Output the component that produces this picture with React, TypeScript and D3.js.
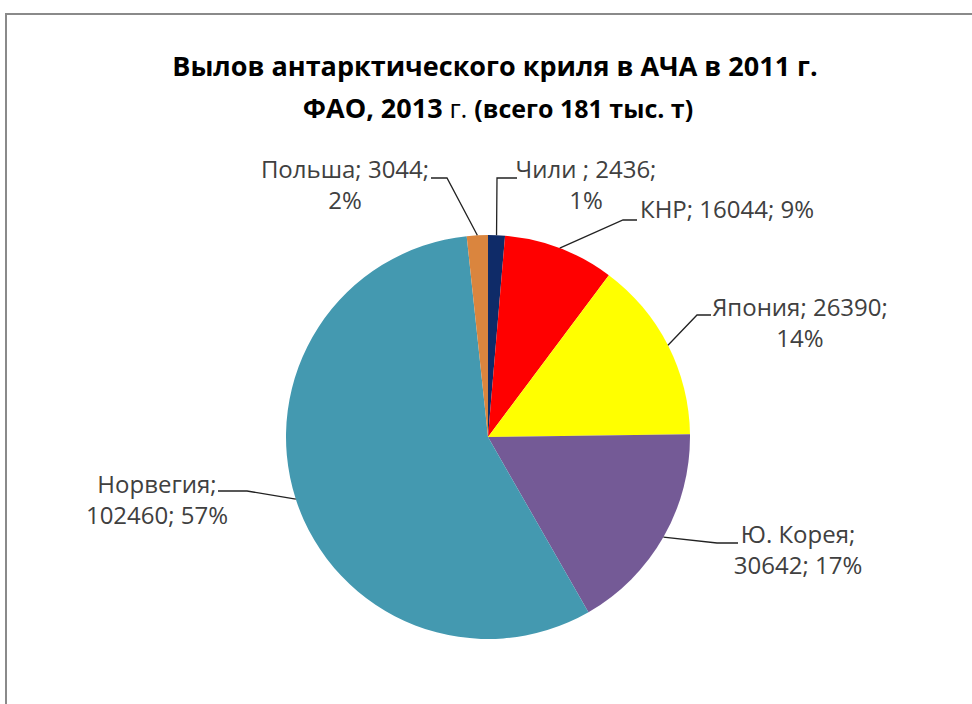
import * as d3 from 'd3';
import React from 'react';

// Krill catch by country, 2011 (tonnes) — slice order as in the source, clockwise from 12 o'clock
const countries = ['Чили ', 'КНР', 'Япония', 'Ю. Корея', 'Норвегия', 'Польша'];
const catches = [2436, 16044, 26390, 30642, 102460, 3044];
const percents = [1, 9, 14, 17, 57, 2];
const colors = ['#0f2b68', '#ff0000', '#ffff00', '#745a96', '#4499b0', '#da853e'];

const titleLine1 = 'Вылов антарктического криля в АЧА в 2011 г.';

type Slice = { name: string; value: number; pct: number; color: string };

const slices: Slice[] = countries.map((name, i) => ({
  name,
  value: catches[i],
  pct: percents[i],
  color: colors[i],
}));

// label placement (Excel-style data labels with leader lines)
type LabelLayout = {
  lines: number[][]; // which label parts go on which line
  x: number;
  y: number;
  anchor: 'start' | 'middle' | 'end';
  elbow: [number, number];
  end: [number, number];
};

const labelLayout: LabelLayout[] = [
  { lines: [[0, 1], [2]], x: 586, y: 178, anchor: 'middle', elbow: [497, 178], end: [517, 178] },
  { lines: [[0, 1, 2]], x: 640, y: 218, anchor: 'start', elbow: [623, 220], end: [637, 220] },
  { lines: [[0, 1], [2]], x: 800, y: 316, anchor: 'middle', elbow: [697, 315], end: [711, 315] },
  { lines: [[0], [1, 2]], x: 798, y: 543, anchor: 'middle', elbow: [717, 543], end: [738, 543] },
  { lines: [[0], [1, 2]], x: 157, y: 493, anchor: 'middle', elbow: [247, 491], end: [218, 491] },
  { lines: [[0, 1], [2]], x: 345, y: 178, anchor: 'middle', elbow: [447, 178], end: [431, 178] },
];

const width = 972;
const height = 704;
const cx = 488;
const cy = 437;
const radius = 202;
const lineHeight = 31;

const App: React.FC = () => {
  const pie = d3
    .pie<Slice>()
    .sort(null)
    .value(d => d.value);
  const arcs = pie(slices);
  const arc = d3.arc<d3.PieArcDatum<Slice>>().innerRadius(0).outerRadius(radius);

  return (
    <svg
      width={width}
      height={height}
      style={{ position: 'absolute', left: 0, top: 0, background: '#fff' }}
      fontFamily="'Open Sans', sans-serif"
    >
      {/* chart area border */}
      <path d={`M6,${height + 5}V14H${width + 5}`} fill="none" stroke="#8a8a8a" strokeWidth={2} />

      <text x={495} y={76} textAnchor="middle" fontSize={27} fontWeight="bold" fill="#000">
        {titleLine1}
      </text>
      <text x={498} y={118} textAnchor="middle" fill="#000">
        <tspan fontSize={27} fontWeight="bold">ФАО, 2013</tspan>
        <tspan fontSize={26}> г. </tspan>
        <tspan fontSize={25} fontWeight="bold">(всего 181 тыс. т)</tspan>
      </text>

      <g transform={`translate(${cx},${cy})`}>
        {arcs.map(a => (
          <path key={a.data.name} d={arc(a) || ''} fill={a.data.color} />
        ))}
      </g>

      {arcs.map((a, i) => {
        const lay = labelLayout[i];
        const mid = (a.startAngle + a.endAngle) / 2;
        const sx = cx + radius * Math.sin(mid);
        const sy = cy - radius * Math.cos(mid);
        const parts = [a.data.name, String(a.data.value), `${a.data.pct}%`];
        return (
          <g key={a.data.name}>
            <polyline
              points={`${sx},${sy} ${lay.elbow[0]},${lay.elbow[1]} ${lay.end[0]},${lay.end[1]}`}
              fill="none"
              stroke="#222"
              strokeWidth={1.3}
            />
            <text x={lay.x} y={lay.y} textAnchor={lay.anchor} fontSize={24} fill="#404040">
              {lay.lines.map((idx, j) => (
                <tspan key={j} x={lay.x} dy={j === 0 ? 0 : lineHeight}>
                  {idx.map(k => parts[k]).join('; ') + (j < lay.lines.length - 1 ? ';' : '')}
                </tspan>
              ))}
            </text>
          </g>
        );
      })}
    </svg>
  );
};

export default App;
